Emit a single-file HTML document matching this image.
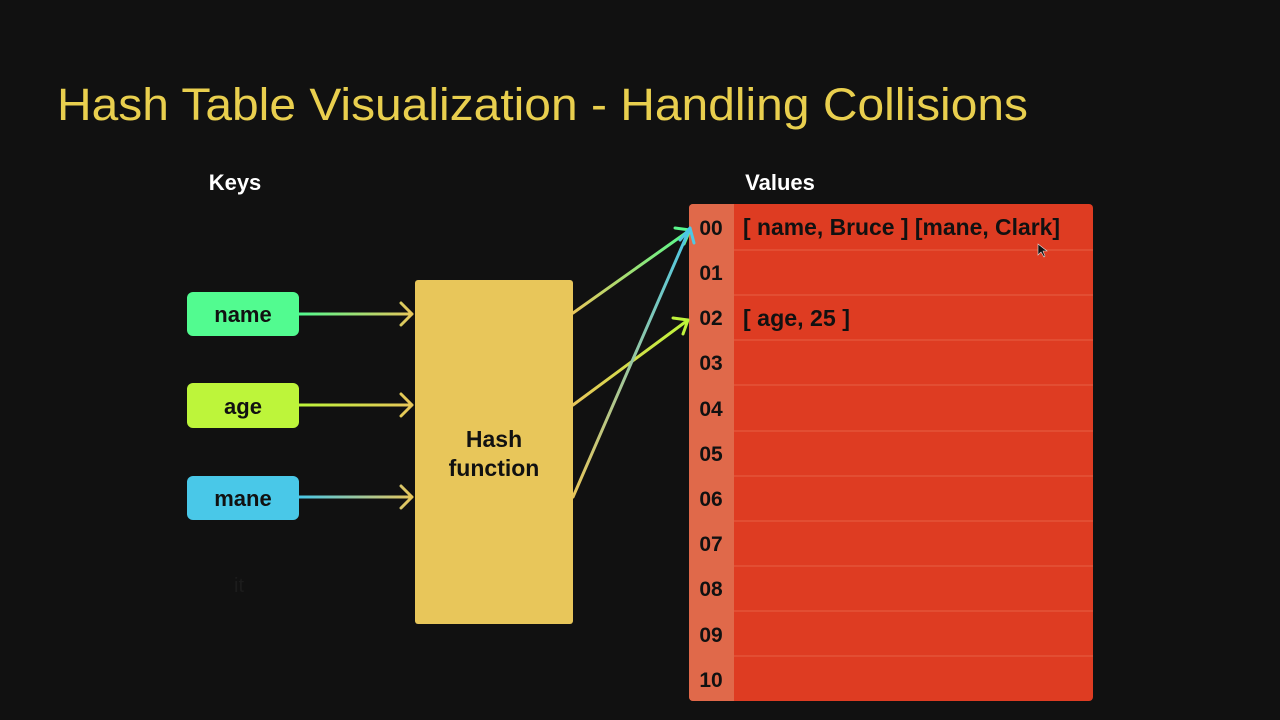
<!DOCTYPE html>
<html><head><meta charset="utf-8"><style>
html,body{margin:0;padding:0;background:#111111;}
svg{display:block;font-family:"Liberation Sans",sans-serif;}
</style></head><body>
<svg width="1280" height="720" viewBox="0 0 1280 720">
<defs>
<linearGradient id="gName" x1="299" y1="0" x2="413" y2="0" gradientUnits="userSpaceOnUse"><stop offset="0" stop-color="#52fb90"/><stop offset="1" stop-color="#e8c65a"/></linearGradient>
<linearGradient id="gAge" x1="299" y1="0" x2="413" y2="0" gradientUnits="userSpaceOnUse"><stop offset="0" stop-color="#bdf53a"/><stop offset="1" stop-color="#e8c65a"/></linearGradient>
<linearGradient id="gMane" x1="299" y1="0" x2="413" y2="0" gradientUnits="userSpaceOnUse"><stop offset="0" stop-color="#49c8e8"/><stop offset="1" stop-color="#e8c65a"/></linearGradient>
<linearGradient id="o1" x1="573" y1="313" x2="690" y2="230" gradientUnits="userSpaceOnUse"><stop offset="0" stop-color="#e8c65a"/><stop offset="1" stop-color="#52fb90"/></linearGradient>
<linearGradient id="o2" x1="573" y1="405" x2="688" y2="320" gradientUnits="userSpaceOnUse"><stop offset="0" stop-color="#e8c65a"/><stop offset="1" stop-color="#bdf53a"/></linearGradient>
<linearGradient id="o3" x1="573" y1="497" x2="690" y2="228" gradientUnits="userSpaceOnUse"><stop offset="0" stop-color="#e8c65a"/><stop offset="1" stop-color="#49c8e8"/></linearGradient>
</defs>
<rect width="1280" height="720" fill="#111111"/>
<text x="57" y="120" font-size="45" fill="#e9cf4e" textLength="971" lengthAdjust="spacingAndGlyphs">Hash Table Visualization - Handling Collisions</text>
<text x="235" y="190" font-size="22" font-weight="bold" fill="#ffffff" text-anchor="middle">Keys</text>
<text x="780" y="190" font-size="22" font-weight="bold" fill="#ffffff" text-anchor="middle">Values</text>

<g><rect x="187" y="292" width="112" height="44" rx="6" fill="#52fb90"/><text x="243" y="322" font-size="22" font-weight="bold" fill="#111" text-anchor="middle">name</text></g>
<g><rect x="187" y="383" width="112" height="45" rx="6" fill="#bdf53a"/><text x="243" y="414" font-size="22" font-weight="bold" fill="#111" text-anchor="middle">age</text></g>
<g><rect x="187" y="476" width="112" height="44" rx="6" fill="#49c8e8"/><text x="243" y="506" font-size="22" font-weight="bold" fill="#111" text-anchor="middle">mane</text></g>
<text x="239" y="592" font-size="20" fill="#1c1c1c" text-anchor="middle">it</text>

<g fill="none" stroke-width="3" stroke-linecap="round" stroke-linejoin="round">
<path d="M299 314H412M401 303L412 314L401 325" stroke="url(#gName)"/>
<path d="M299 405H412M401 394L412 405L401 416" stroke="url(#gAge)"/>
<path d="M299 497H412M401 486L412 497L401 508" stroke="url(#gMane)"/>
</g>

<g><rect x="415" y="280" width="158" height="344" rx="3" fill="#e8c65a"/>
<text x="494" y="447" font-size="23" font-weight="bold" fill="#111" text-anchor="middle">Hash</text>
<text x="494" y="476" font-size="23" font-weight="bold" fill="#111" text-anchor="middle">function</text></g>

<g>
<rect x="689" y="204" width="404" height="497" rx="4" fill="#de3c22"/>
<path d="M693 204H734V701H693A4 4 0 0 1 689 697V208A4 4 0 0 1 693 204Z" fill="#e0694a"/>
<g stroke="#e24e33" stroke-width="2">
<line x1="734" y1="250" x2="1093" y2="250"/><line x1="734" y1="295" x2="1093" y2="295"/><line x1="734" y1="340" x2="1093" y2="340"/><line x1="734" y1="385" x2="1093" y2="385"/><line x1="734" y1="431" x2="1093" y2="431"/><line x1="734" y1="476" x2="1093" y2="476"/><line x1="734" y1="521" x2="1093" y2="521"/><line x1="734" y1="566" x2="1093" y2="566"/><line x1="734" y1="611" x2="1093" y2="611"/><line x1="734" y1="656" x2="1093" y2="656"/>
</g>
<g font-size="21" font-weight="bold" fill="#111" text-anchor="middle">
<text x="711" y="235">00</text><text x="711" y="280">01</text><text x="711" y="325">02</text><text x="711" y="370">03</text><text x="711" y="416">04</text><text x="711" y="461">05</text><text x="711" y="506">06</text><text x="711" y="551">07</text><text x="711" y="596">08</text><text x="711" y="642">09</text><text x="711" y="687">10</text>
</g>
<text x="743" y="235" font-size="23" font-weight="bold" fill="#111" textLength="317" lengthAdjust="spacingAndGlyphs">[ name, Bruce ] [mane, Clark]</text>
<text x="743" y="326" font-size="23" font-weight="bold" fill="#111" textLength="107" lengthAdjust="spacingAndGlyphs">[ age, 25 ]</text>
</g>

<g fill="none" stroke-width="3" stroke-linecap="round" stroke-linejoin="round">
<path d="M573 313L690 230M675 228L690 230L684 244" stroke="url(#o1)"/>
<path d="M573 405L688 320M673 318L688 320L683 334" stroke="url(#o2)"/>
<path d="M573 497L690 228M680 240L690 228L694 243" stroke="url(#o3)"/>
</g>
<path d="M1038 244L1038 255L1041 252L1044 257L1045 256L1043 251L1047 251Z" fill="#111" stroke="#ddd" stroke-width="0.6"/>
</svg>
</body></html>
